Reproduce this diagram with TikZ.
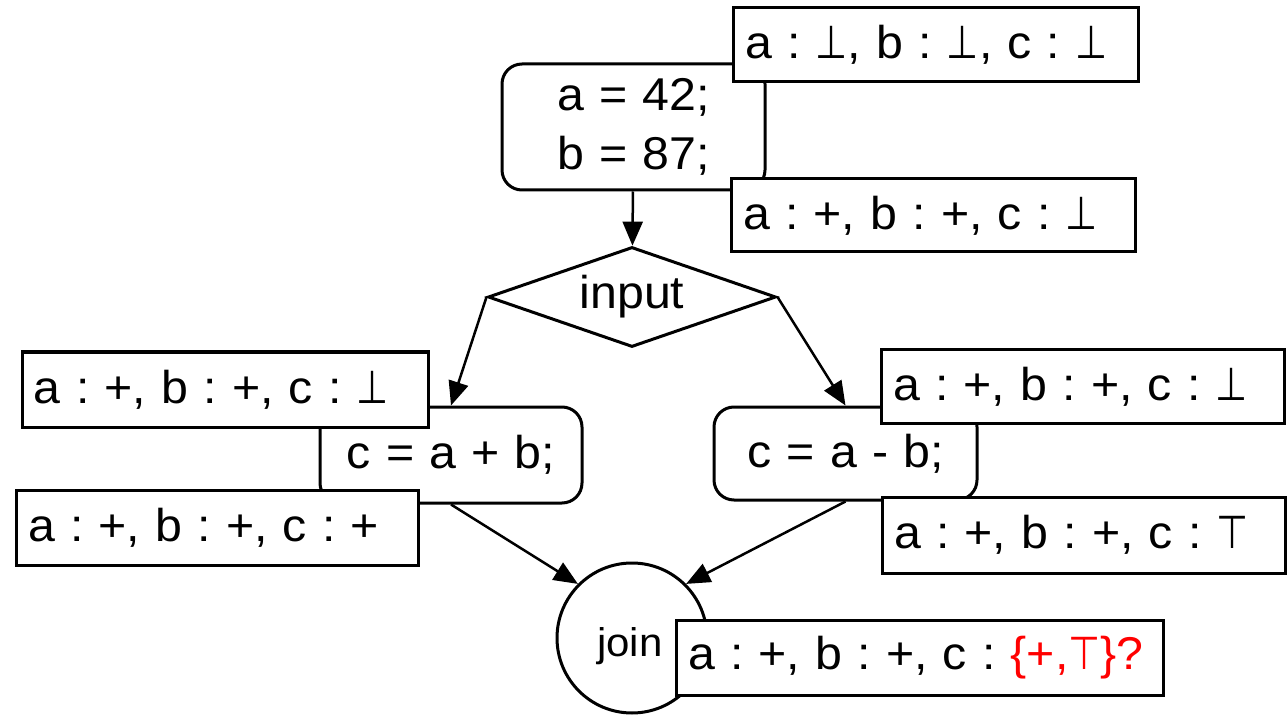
\documentclass[tikz,border=0pt]{standalone}
\usepackage{fontspec}
\setmainfont[FakeStretch=1.05]{Liberation Sans}
\newfontfamily\symfont{DejaVu Sans}
\usetikzlibrary{arrows.meta,shapes.geometric}
\newcommand{\bt}{{\symfont\scalebox{0.8}[1]{⊥}}}
\newcommand{\tp}{{\symfont\scalebox{0.8}[1]{⊤}}}
\newcommand{\bigfs}{\fontsize{46}{59}\selectfont\frenchspacing\spaceskip=0.33em\relax}
\newcommand{\lft}[2]{\makebox[#1pt][l]{#2}}
\begin{document}
\begin{tikzpicture}[x=1pt,y=-1pt,
  state/.style={draw, fill=white, line width=3pt, rectangle, inner xsep=12pt, inner ysep=0pt, font=\bigfs},
  prog/.style={draw, line width=3pt, rectangle, rounded corners=20pt, inner sep=0pt, align=center, font=\bigfs},
  flow/.style={line width=2.5pt, -{Triangle[length=24pt,width=20pt]}}]
\useasboundingbox (0,0) rectangle (1288,719);
% program blocks
\node[prog, minimum width=263pt, minimum height=126pt] (p0) at (633.5,127) {a = 42;\\b = 87;};
\node[draw, line width=3pt, diamond, aspect=2.88, inner sep=0pt, minimum width=288pt, minimum height=100pt, font=\bigfs] (in) at (632,297) {input};
\node[prog, minimum width=262pt, minimum height=96pt] (lp) at (451,455) {c = a + b;};
\node[prog, minimum width=263pt, minimum height=93pt] (rp) at (845.5,453.5) {c = a - b;};
\node[draw, line width=3pt, circle, minimum size=150pt, inner sep=0pt] (j) at (632,638) {};
\node[font=\fontsize{40}{48}\selectfont] (jt) at (630,646) {join};
% state boxes
\node[state, minimum height=74pt] (s0) at (935.5,45) {\lft{381}{a : \bt, b : \bt, c : \bt}};
\node[state, minimum height=73pt] (s1) at (933,215.5) {\lft{380}{a : +, b : +, c : \bt}};
\node[state, minimum height=75pt] (ls0) at (225,389.5) {\lft{382}{a : +, b : +, c : \bt}};
\node[state, minimum height=75pt] (ls1) at (217,527.5) {\lft{378}{a : +, b : +, c : +}};
\node[state, minimum height=73pt] (rs0) at (1082.5,386.5) {\lft{379}{a : +, b : +, c : \bt}};
\node[state, minimum height=76pt] (rs1) at (1083.5,535) {\lft{379}{a : +, b : +, c : \tp}};
\node[state, minimum height=75pt] (js) at (919.5,657.5) {\lft{463}{a : +, b : +, c : \textcolor{red}{\{+,\tp\}?}}};
% connectors
\draw[flow] (p0) -- (in);
\draw[flow] (in.west) -- (lp.north);
\draw[flow] (in.east) -- (rp.north);
\draw[flow] (lp.south) -- (j.135);
\draw[flow] (rp.south) -- (j.45);
\end{tikzpicture}
\end{document}
